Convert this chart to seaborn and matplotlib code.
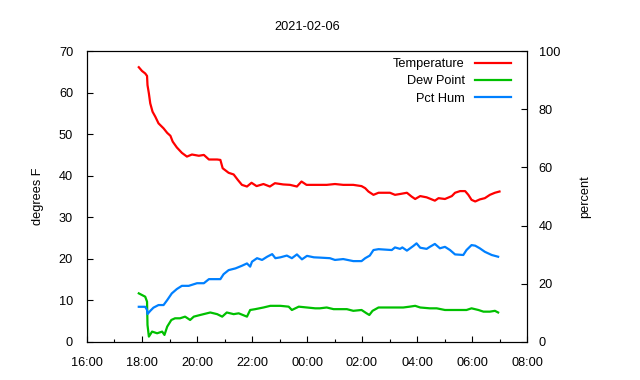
import matplotlib
matplotlib.use("Agg")
import matplotlib.pyplot as plt
import matplotlib.dates as mdates
import seaborn as sns
import pandas as pd

# readings (hh:mm, value); evening of 02-05 running into morning of 02-06
temp_time = ["17:53", "18:00", "18:07", "18:11", "18:12", "18:15", "18:18", "18:23", "18:29", "18:36",
             "18:47", "18:55", "19:02", "19:07", "19:16", "19:27", "19:38", "19:49", "20:04", "20:15",
             "20:26", "20:44", "20:51", "20:56", "21:09", "21:20", "21:29", "21:38", "21:49", "21:59",
             "22:10", "22:25", "22:39", "22:50", "23:08", "23:23", "23:38", "23:48", "23:59", "00:21",
             "00:43", "01:01", "01:19", "01:41", "01:59", "02:07", "02:14", "02:25", "02:36", "03:01",
             "03:12", "03:23", "03:38", "03:48", "03:56", "04:07", "04:21", "04:39", "04:47", "05:01",
             "05:16", "05:23", "05:34", "05:45", "05:52", "05:59", "06:07", "06:17", "06:28", "06:39",
             "06:50", "07:00"]
temp_f = [66.1, 65.2, 64.6, 64.0, 61.8, 59.8, 57.4, 55.4, 54.2, 52.6,
          51.4, 50.3, 49.6, 48.2, 46.8, 45.5, 44.6, 45.1, 44.8, 45.0,
          43.9, 43.9, 43.8, 41.8, 40.7, 40.3, 39.0, 37.8, 37.4, 38.3,
          37.5, 38.0, 37.4, 38.2, 37.9, 37.8, 37.4, 38.6, 37.8, 37.8,
          37.8, 38.0, 37.8, 37.8, 37.5, 37.0, 36.2, 35.4, 35.9, 35.9,
          35.4, 35.6, 35.9, 35.0, 34.4, 35.1, 34.8, 34.0, 34.6, 34.4,
          35.1, 35.9, 36.3, 36.3, 35.4, 34.2, 33.8, 34.3, 34.6, 35.4,
          35.9, 36.2]

dew_time = ["17:53", "18:00", "18:07", "18:11", "18:12", "18:15", "18:22", "18:33", "18:44", "18:49",
            "18:55", "19:04", "19:12", "19:23", "19:34", "19:45", "19:53", "20:07", "20:29", "20:44",
            "20:55", "21:05", "21:20", "21:31", "21:49", "21:56", "22:07", "22:25", "22:40", "23:02",
            "23:20", "23:27", "23:42", "00:00", "00:18", "00:28", "00:43", "00:58", "01:27", "01:41",
            "01:59", "02:10", "02:16", "02:23", "02:36", "02:54", "03:12", "03:30", "03:44", "03:56",
            "04:07", "04:28", "04:43", "05:01", "05:19", "05:34", "05:48", "05:59", "06:14", "06:25",
            "06:39", "06:50", "06:57"]
dew_f = [11.7, 11.3, 10.9, 9.7, 4.1, 1.3, 2.5, 2.1, 2.5, 1.7,
         3.7, 5.3, 5.7, 5.7, 6.1, 5.3, 6.1, 6.5, 7.1, 6.7,
         6.1, 7.1, 6.7, 6.9, 6.1, 7.7, 7.9, 8.3, 8.7, 8.7,
         8.5, 7.7, 8.5, 8.3, 8.1, 8.1, 8.3, 7.9, 7.9, 7.5,
         7.7, 6.9, 6.5, 7.5, 8.3, 8.3, 8.3, 8.3, 8.5, 8.7,
         8.3, 8.1, 8.1, 7.7, 7.7, 7.7, 7.7, 8.1, 7.7, 7.3,
         7.3, 7.5, 7.1]

hum_time = ["17:53", "18:07", "18:11", "18:12", "18:18", "18:25", "18:36", "18:47", "18:55", "19:05",
            "19:16", "19:27", "19:42", "20:00", "20:15", "20:26", "20:51", "20:58", "21:09", "21:24",
            "21:38", "21:49", "21:56", "22:00", "22:11", "22:22", "22:33", "22:44", "22:51", "23:02",
            "23:16", "23:27", "23:38", "23:49", "00:00", "00:15", "00:28", "00:50", "01:01", "01:19",
            "01:41", "01:59", "02:07", "02:17", "02:25", "02:36", "03:05", "03:12", "03:23", "03:28",
            "03:38", "03:52", "03:59", "04:07", "04:21", "04:28", "04:39", "04:50", "05:01", "05:12",
            "05:23", "05:41", "05:48", "05:59", "06:07", "06:17", "06:28", "06:43", "06:57"]
hum_pct = [12.1, 12.1, 11.0, 9.6, 10.7, 11.8, 12.7, 12.7, 14.4, 16.7,
           18.2, 19.3, 19.3, 20.2, 20.2, 21.6, 21.6, 23.3, 24.7, 25.3,
           26.2, 27.0, 25.9, 27.6, 28.8, 28.2, 29.3, 30.2, 28.8, 29.1,
           29.7, 28.8, 30.1, 28.4, 29.6, 29.1, 29.0, 28.8, 28.2, 28.5,
           27.8, 27.8, 28.8, 29.7, 31.6, 31.9, 31.6, 32.5, 32.0, 32.5,
           31.4, 33.0, 33.9, 32.4, 32.0, 32.7, 33.7, 32.2, 32.7, 31.6,
           30.1, 29.9, 31.6, 33.3, 33.1, 32.2, 31.0, 29.9, 29.3]


def to_dt(times):
    out = []
    for t in times:
        day = "2021-02-06" if int(t[:2]) < 12 else "2021-02-05"
        out.append(pd.Timestamp(day + " " + t))
    return out


plt.rcParams["font.family"] = ["Liberation Sans", "DejaVu Sans"]
plt.rcParams["font.size"] = 9.2

fig = plt.figure(figsize=(6.4, 3.8), dpi=100)
ax = fig.add_axes([87 / 640, 38 / 380, 440 / 640, 291 / 380])
ax2 = ax.twinx()

sns.lineplot(x=to_dt(temp_time), y=temp_f, color="#ff0000", lw=1.6, ax=ax, label="Temperature", legend=False)
sns.lineplot(x=to_dt(dew_time), y=dew_f, color="#00c000", lw=1.6, ax=ax, label="Dew Point", legend=False)
sns.lineplot(x=to_dt(hum_time), y=hum_pct, color="#0080ff", lw=1.6, ax=ax2, label="Pct Hum", legend=False)

ax.set_xlim(pd.Timestamp("2021-02-05 16:00"), pd.Timestamp("2021-02-06 08:00"))
ax.set_ylim(0, 70)
ax2.set_ylim(0, 100)
ax.set_yticks(range(0, 71, 10))
ax2.set_yticks(range(0, 101, 20))
ax.xaxis.set_major_locator(mdates.HourLocator(byhour=range(0, 24, 2)))
ax.xaxis.set_minor_locator(mdates.HourLocator())
ax.xaxis.set_major_formatter(mdates.DateFormatter("%H:%M"))

ax.tick_params(axis="x", which="major", direction="in", length=4, width=0.8, color="black", pad=11)
ax.tick_params(axis="y", which="major", direction="in", length=4, width=0.8, color="black", pad=10)
ax.tick_params(axis="x", which="minor", direction="in", length=2, width=0.8)
ax.tick_params(axis="y", right=False)
ax2.tick_params(axis="y", direction="in", length=4, width=0.8, pad=8.5)

for a in (ax, ax2):
    for s in a.spines.values():
        s.set_linewidth(0.8)
        s.set_color("black")

ax.set_xlabel("")
ax.set_ylabel("degrees F")
ax2.set_ylabel("percent")
ax.yaxis.set_label_coords(-0.098, 0.5)
ax2.yaxis.set_label_coords(1.118, 0.5)
ax.set_title("2021-02-06", pad=15, fontsize=9.2)

h1, l1 = ax.get_legend_handles_labels()
h2, l2 = ax2.get_legend_handles_labels()
ax2.legend(h1 + h2, l1 + l2, loc="upper right", bbox_to_anchor=(511 / 640, 1 - 58 / 380),
           bbox_transform=fig.transFigure, frameon=False, markerfirst=False,
           handlelength=2.8, handletextpad=0.8, labelspacing=0.42, borderpad=0, borderaxespad=0)

fig.savefig("out.png", dpi=100)
